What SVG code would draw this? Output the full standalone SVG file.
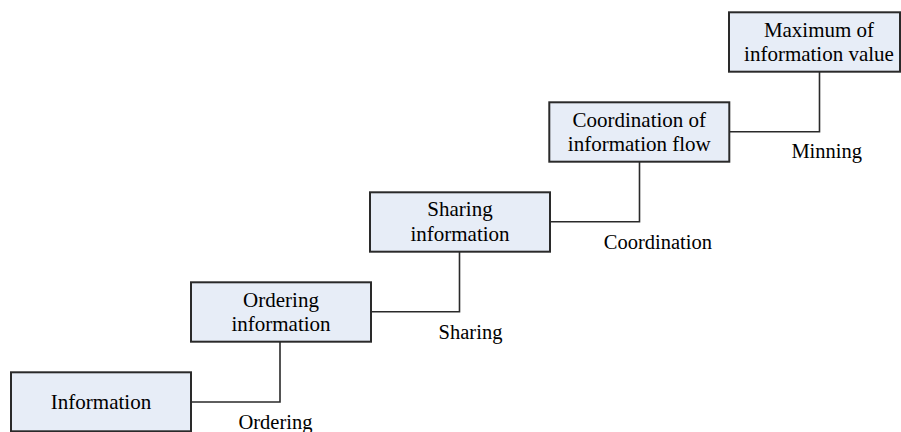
<svg xmlns="http://www.w3.org/2000/svg" width="901" height="432" viewBox="0 0 901 432">
<style>
.box{fill:#E7EDF7;stroke:#2a2a2a;stroke-width:2}
.t{font-family:"Liberation Serif","Times New Roman",serif;font-size:21px;fill:#000;text-anchor:middle}
.lbl{font-family:"Liberation Serif","Times New Roman",serif;font-size:20.5px;fill:#000;text-anchor:middle}
.c{fill:none;stroke:#2a2a2a;stroke-width:1.6}
</style>
<rect width="901" height="432" fill="#fff"/>
<g id="connectors">
<polyline class="c" points="191,402 280,402 280,341.7"/>
<polyline class="c" points="371,311.7 459.5,311.7 459.5,251.7"/>
<polyline class="c" points="550,221.7 639.5,221.7 639.5,161.7"/>
<polyline class="c" points="729.5,131.7 819.5,131.7 819.5,71.7"/>
</g>
<g id="labels">
<text class="lbl" x="275.5" y="429">Ordering</text>
<text class="lbl" x="470.5" y="338.5">Sharing</text>
<text class="lbl" x="657.8" y="248.7">Coordination</text>
<text class="lbl" x="826.7" y="158">Minning</text>
</g>
<g id="n1">
<rect class="box" x="11" y="372.3" width="180" height="59"/>
<text class="t" x="101" y="408.5">Information</text>
</g>
<g id="n2">
<rect class="box" x="191" y="282.3" width="180" height="59.4"/>
<text class="t" x="281" y="306.7">Ordering</text>
<text class="t" x="281" y="331">information</text>
</g>
<g id="n3">
<rect class="box" x="370" y="192.3" width="180" height="59.4"/>
<text class="t" x="460" y="216.3">Sharing</text>
<text class="t" x="460" y="241">information</text>
</g>
<g id="n4">
<rect class="box" x="549.3" y="102.3" width="180" height="59.4"/>
<text class="t" x="639.3" y="126.5">Coordination of</text>
<text class="t" x="639.3" y="151">information flow</text>
</g>
<g id="n5">
<rect class="box" x="729" y="12.3" width="171" height="59.4"/>
<text class="t" x="819" y="36.5">Maximum of</text>
<text class="t" x="819" y="61">information value</text>
</g>
</svg>
